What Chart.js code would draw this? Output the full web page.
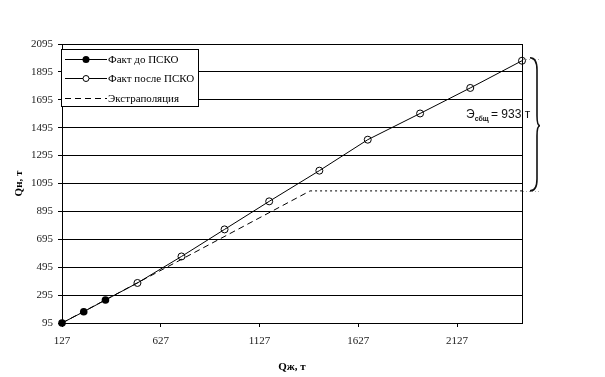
<!DOCTYPE html>
<html><head><meta charset="utf-8">
<script src="https://cdn.jsdelivr.net/npm/chart.js@4/dist/chart.umd.min.js"></script>
<style>html,body{margin:0;padding:0;background:#fff}#wrap{width:605px;height:377px;position:relative}</style>
</head><body><div id="wrap"><canvas id="c" width="605" height="377"></canvas></div>
<script>
// ---- data ----
const seriesNames = ['Факт до ПСКО', 'Факт после ПСКО', 'Экстраполяция'];
const xBefore = [127, 237, 347];
const yBefore = [95, 176, 260];
const xAfter = [347, 509, 732, 950, 1176, 1430, 1675, 1940, 2194, 2456];
const yAfter = [260, 382, 572, 766, 967, 1187, 1409, 1597, 1780, 1975];
const xExtrap = [127, 1383];
const yExtrap = [95, 1042];
const xPlateau = [1383, 2456];
const yPlateau = [1042, 1042];
const xTicks = [127, 627, 1127, 1627, 2127];
const yTicks = [95, 295, 495, 695, 895, 1095, 1295, 1495, 1695, 1895, 2095];
const xRange = [127, 2456];
const yRange = [95, 2095];
const xTitle = 'Qж, т';
const yTitle = 'Qн, т';
const effectMain = 'Э';
const effectSub = 'сбщ';
const effectRest = ' = 933 т';

const SERIF = '"Liberation Serif", "Times New Roman", serif';
const SANS = '"Liberation Sans", Arial, sans-serif';

const pts = (xs, ys) => xs.map((x, i) => ({x: x, y: ys[i]}));

const decor = {
  id: 'decor',
  afterDraw(chart) {
    const ctx = chart.ctx, a = chart.chartArea;
    const xs = chart.scales.x, ys = chart.scales.y;
    ctx.save();
    // right border of plot area
    ctx.strokeStyle = '#000'; ctx.lineWidth = 1; ctx.setLineDash([]);
    ctx.beginPath();
    ctx.moveTo(Math.round(a.right) + 0.5, a.top); ctx.lineTo(Math.round(a.right) + 0.5, a.bottom);
    ctx.stroke();

    // brace annotation
    const yt = ys.getPixelForValue(yAfter[yAfter.length - 1]);
    const yb = ys.getPixelForValue(yPlateau[yPlateau.length - 1]);
    const ym = (yt + yb) / 2;
    // gray guide dots
    ctx.strokeStyle = '#aaa'; ctx.setLineDash([1, 2]);
    ctx.beginPath();
    ctx.moveTo(a.right + 1, Math.round(yt - 2) + 0.5); ctx.lineTo(a.right + 17, Math.round(yt - 2) + 0.5);
    ctx.moveTo(a.right + 1, Math.round(yb) + 0.5); ctx.lineTo(a.right + 17, Math.round(yb) + 0.5);
    ctx.stroke();
    ctx.setLineDash([]);
    const x0 = a.right + 8, xm = a.right + 15, xp = a.right + 18;
    const top = yt - 3, bot = yb;
    ctx.strokeStyle = '#111'; ctx.lineWidth = 1.6;
    ctx.beginPath();
    ctx.moveTo(x0, top);
    ctx.quadraticCurveTo(xm, top, xm, top + 12);
    ctx.lineTo(xm, ym - 10);
    ctx.quadraticCurveTo(xm, ym, xp, ym);
    ctx.quadraticCurveTo(xm, ym, xm, ym + 10);
    ctx.lineTo(xm, bot - 12);
    ctx.quadraticCurveTo(xm, bot, x0, bot);
    ctx.stroke();

    // effect label
    let tx = a.right - 56, ty = ym - 8;
    ctx.fillStyle = '#111'; ctx.textBaseline = 'alphabetic'; ctx.textAlign = 'left';
    ctx.font = '12px ' + SANS;
    ctx.fillText(effectMain, tx, ty);
    tx += ctx.measureText(effectMain).width;
    ctx.font = 'bold 7px ' + SANS;
    ctx.fillText(effectSub, tx, ty + 3);
    tx += ctx.measureText(effectSub).width;
    ctx.font = '12px ' + SANS;
    ctx.fillText(effectRest, tx - 1, ty);

    // legend
    const lx = a.left - 1, ly = a.top + 5, lw = 137, lh = 57;
    ctx.fillStyle = '#fff';
    ctx.fillRect(lx, ly, lw, lh);
    ctx.strokeStyle = '#000'; ctx.lineWidth = 1;
    ctx.strokeRect(lx + 0.5, ly + 0.5, lw, lh);
    const rows = [ly + 10.5, ly + 29.5, ly + 49.5];
    chart.data.datasets.slice(0, 3).forEach((ds, i) => {
      const r = Math.round(rows[i] - 0.5) + 0.5;
      ctx.strokeStyle = '#000'; ctx.lineWidth = 1;
      ctx.setLineDash(i === 2 ? [6, 4] : []);
      ctx.beginPath(); ctx.moveTo(lx + 4, r); ctx.lineTo(lx + 46, r); ctx.stroke();
      ctx.setLineDash([]);
      if (i === 0) {
        ctx.fillStyle = '#000'; ctx.beginPath(); ctx.arc(lx + 25, r, 3.5, 0, Math.PI * 2); ctx.fill();
      } else if (i === 1) {
        ctx.fillStyle = '#fff'; ctx.beginPath(); ctx.arc(lx + 25, r, 3, 0, Math.PI * 2); ctx.fill(); ctx.stroke();
      }
      ctx.fillStyle = '#000'; ctx.font = '11px ' + SERIF; ctx.textBaseline = 'middle';
      ctx.fillText(ds.label, lx + 47, r + 1);
    });
    ctx.restore();
  }
};

new Chart(document.getElementById('c'), {
  type: 'scatter',
  data: {
    datasets: [
      {label: seriesNames[0], data: pts(xBefore, yBefore), showLine: true, clip: false,
       borderColor: '#000', borderWidth: 1, backgroundColor: '#000',
       pointRadius: 3.8, pointBackgroundColor: '#000', pointBorderColor: '#000', pointBorderWidth: 0},
      {label: seriesNames[1], data: pts(xAfter, yAfter), showLine: true, clip: false,
       borderColor: '#000', borderWidth: 1, backgroundColor: 'rgba(0,0,0,0)',
       pointRadius: c => c.dataIndex === 0 ? 0 : 3.5, pointBackgroundColor: 'rgba(0,0,0,0)',
       pointBorderColor: '#000', pointBorderWidth: 1},
      {label: seriesNames[2], data: pts(xExtrap, yExtrap), showLine: true,
       borderColor: '#000', borderWidth: 1, borderDash: [6, 4], pointRadius: 0},
      {label: '', data: pts(xPlateau, yPlateau), showLine: true,
       borderColor: '#000', borderWidth: 1, borderDash: [2, 3], pointRadius: 0}
    ]
  },
  options: {
    responsive: false, animation: false, devicePixelRatio: 1,
    layout: {padding: {top: 44, right: 83, bottom: 0, left: 0}},
    plugins: {legend: {display: false}, tooltip: {enabled: false}},
    scales: {
      x: {
        type: 'linear', min: xRange[0], max: xRange[1],
        afterBuildTicks: s => { s.ticks = xTicks.map(v => ({value: v})); },
        afterFit: s => { s.height = 54; },
        ticks: {font: {family: SERIF, size: 11}, color: '#222', padding: 8, maxRotation: 0, autoSkip: false,
                callback: v => String(v)},
        grid: {drawOnChartArea: false, drawTicks: true, tickLength: 4, color: '#000', lineWidth: 1},
        border: {display: true, color: '#000', width: 1},
        title: {display: true, text: xTitle, color: '#000', font: {family: SERIF, size: 11, weight: 'bold'},
                padding: {top: 0, bottom: 3}}
      },
      y: {
        type: 'linear', min: yRange[0], max: yRange[1],
        afterBuildTicks: s => { s.ticks = yTicks.map(v => ({value: v})); },
        afterFit: s => { s.width = 62; },
        ticks: {font: {family: SERIF, size: 11}, color: '#222', padding: 5, autoSkip: false,
                callback: v => String(v)},
        grid: {drawOnChartArea: true, drawTicks: true, tickLength: 4, color: '#000', lineWidth: 1},
        border: {display: true, color: '#000', width: 1},
        title: {display: true, text: yTitle, color: '#000', font: {family: SERIF, size: 11, weight: 'bold'},
                padding: {top: 13, bottom: 0}}
      }
    }
  },
  plugins: [decor]
});
</script></body></html>
